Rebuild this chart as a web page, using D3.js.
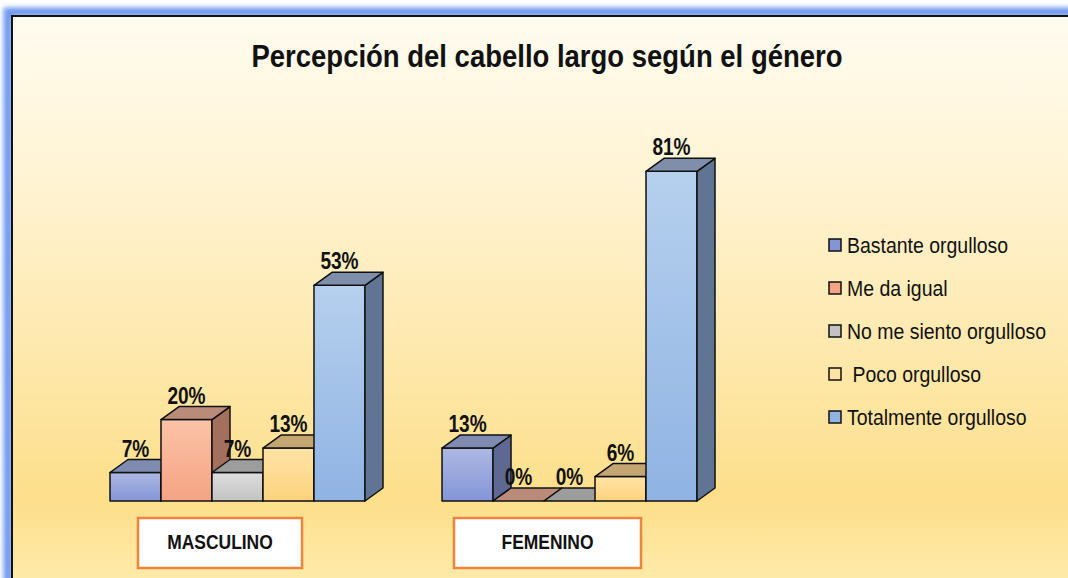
<!DOCTYPE html>
<html><head><meta charset="utf-8">
<script src="https://cdn.jsdelivr.net/npm/d3@7"></script>
<style>html,body{margin:0;padding:0;background:#fff;}svg{display:block;}</style>
</head><body>
<script>
const categories = ["MASCULINO", "FEMENINO"];
const seriesNames = ["Bastante orgulloso", "Me da igual", "No me siento orgulloso", "Poco orgulloso", "Totalmente orgulloso"];
const legendLabels = ["Bastante orgulloso", "Me da igual", "No me siento orgulloso", " Poco orgulloso", "Totalmente orgulloso"];
const masculino = [7, 20, 7, 13, 53];
const femenino = [13, 0, 0, 6, 81];
const valueLabels = [["7%", "20%", "7%", "13%", "53%"], ["13%", "0%", "0%", "6%", "81%"]];
const title = "Percepción del cabello largo según el género";

const W = 1068, H = 578;
const frontTop = ["#adb9e4", "#fbc3a6", "#dedede", "#ffe3a6", "#b6d0ee"];
const frontBot = ["#8395d6", "#f5a383", "#c2c2c2", "#fdd27c", "#8fb3e3"];
const topCol = ["#7f8bb0", "#bb8b7a", "#9d9d9d", "#c4a672", "#7f8fab"];
const sideCol = ["#5d6993", "#a2705d", "#808080", "#a88a5a", "#607594"];

const svg = d3.select("body").append("svg").attr("width", W).attr("height", H);
const defs = svg.append("defs");
const bg = defs.append("linearGradient").attr("id", "bg")
  .attr("gradientUnits", "userSpaceOnUse").attr("x1", 0).attr("y1", 16).attr("x2", 0).attr("y2", 578);
bg.append("stop").attr("offset", 0).attr("stop-color", "#fffcf0");
bg.append("stop").attr("offset", 0.3).attr("stop-color", "#fff3d2");
bg.append("stop").attr("offset", 0.86).attr("stop-color", "#fddf8b");
bg.append("stop").attr("offset", 1).attr("stop-color", "#feeaa8");
frontTop.forEach((c, i) => {
  const g = defs.append("linearGradient").attr("id", "f" + i).attr("x1", 0).attr("y1", 0).attr("x2", 0).attr("y2", 1);
  g.append("stop").attr("offset", 0).attr("stop-color", c);
  g.append("stop").attr("offset", 1).attr("stop-color", frontBot[i]);
});
const blur = defs.append("filter").attr("id", "glow").attr("x", "-5%").attr("y", "-5%").attr("width", "110%").attr("height", "110%");
blur.append("feGaussianBlur").attr("stdDeviation", 2.5);

// frame
svg.append("rect").attr("x", 8).attr("y", 12).attr("width", 1100).attr("height", 600)
  .attr("fill", "none").attr("stroke", "#6f97ee").attr("stroke-width", 9).attr("filter", "url(#glow)");
svg.append("rect").attr("x", 12).attr("y", 16).attr("width", 1100).attr("height", 600)
  .attr("fill", "url(#bg)").attr("stroke", "#111").attr("stroke-width", 2);

function fit(sel, width) {
  return sel.attr("textLength", width).attr("lengthAdjust", "spacingAndGlyphs");
}
function squeeze(sel, k) {
  sel.each(function () {
    const len = this.getComputedTextLength();
    d3.select(this).attr("textLength", len * k).attr("lengthAdjust", "spacingAndGlyphs");
  });
  return sel;
}
const FONT = "Liberation Sans, Arial, sans-serif";

// title
fit(svg.append("text").attr("x", 547).attr("y", 67).attr("text-anchor", "middle")
  .attr("font-family", FONT).attr("font-weight", "bold").attr("font-size", 31)
  .attr("fill", "#111").text(title), 591);

const x0 = d3.scaleBand().domain(categories).range([110, 697]).paddingInner(0.232).paddingOuter(0);
const x1 = d3.scaleBand().domain(seriesNames).range([0, x0.bandwidth()]).padding(0);
const y = d3.scaleLinear().domain([0, 100]).range([501, 94]);
const dx = 18, dy = 13;

const data = [masculino, femenino];
const bars = svg.append("g").attr("stroke", "#111").attr("stroke-width", 1.5).attr("stroke-linejoin", "round");
categories.forEach((cat, ci) => {
  seriesNames.forEach((s, si) => {
    const v = data[ci][si];
    const xl = x0(cat) + x1(s), xr = xl + x1.bandwidth();
    const yt = y(v), yb = y(0);
    const g = bars.append("g");
    if (yb - yt > 0.5) {
      g.append("rect").attr("x", xl).attr("y", yt).attr("width", xr - xl).attr("height", yb - yt).attr("fill", "url(#f" + si + ")");
      g.append("path").attr("d", `M${xr},${yt}L${xr + dx},${yt - dy}L${xr + dx},${yb - dy}L${xr},${yb}Z`).attr("fill", sideCol[si]);
    }
    g.append("path").attr("d", `M${xl},${yt}L${xl + dx},${yt - dy}L${xr + dx},${yt - dy}L${xr},${yt}Z`).attr("fill", topCol[si]);
  });
});

// value labels
categories.forEach((cat, ci) => {
  seriesNames.forEach((s, si) => {
    const v = data[ci][si];
    squeeze(svg.append("text").attr("x", x0(cat) + x1(s) + x1.bandwidth() / 2).attr("y", y(v) - dy - 3)
      .attr("text-anchor", "middle").attr("font-family", FONT)
      .attr("font-weight", "bold").attr("font-size", 23).attr("fill", "#111").text(valueLabels[ci][si]), 0.83);
  });
});

// category boxes
const boxes = [{ x: 138, w: 164 }, { x: 454, w: 187 }];
categories.forEach((cat, ci) => {
  const b = boxes[ci];
  svg.append("rect").attr("x", b.x).attr("y", 518).attr("width", b.w).attr("height", 50)
    .attr("fill", "#fff").attr("stroke", "#f0843a").attr("stroke-width", 2.5);
  squeeze(svg.append("text").attr("x", b.x + b.w / 2).attr("y", 549).attr("text-anchor", "middle")
    .attr("font-family", FONT).attr("font-weight", "bold").attr("font-size", 21)
    .attr("fill", "#111").text(cat), 0.83);
});

// legend
const lg = svg.append("g");
legendLabels.forEach((t, i) => {
  const cy = 245 + i * 43;
  lg.append("rect").attr("x", 829).attr("y", cy - 6).attr("width", 12).attr("height", 12)
    .attr("fill", i === 3 ? "#fde3a6" : frontBot[i]).attr("stroke", "#111").attr("stroke-width", 1.5);
  squeeze(lg.append("text").attr("x", 847).attr("y", cy + 7.5).attr("xml:space", "preserve").style("white-space", "pre")
    .attr("font-family", FONT).attr("font-size", 21.5)
    .attr("fill", "#111").text(t), 0.905);
});
</script>
</body></html>
